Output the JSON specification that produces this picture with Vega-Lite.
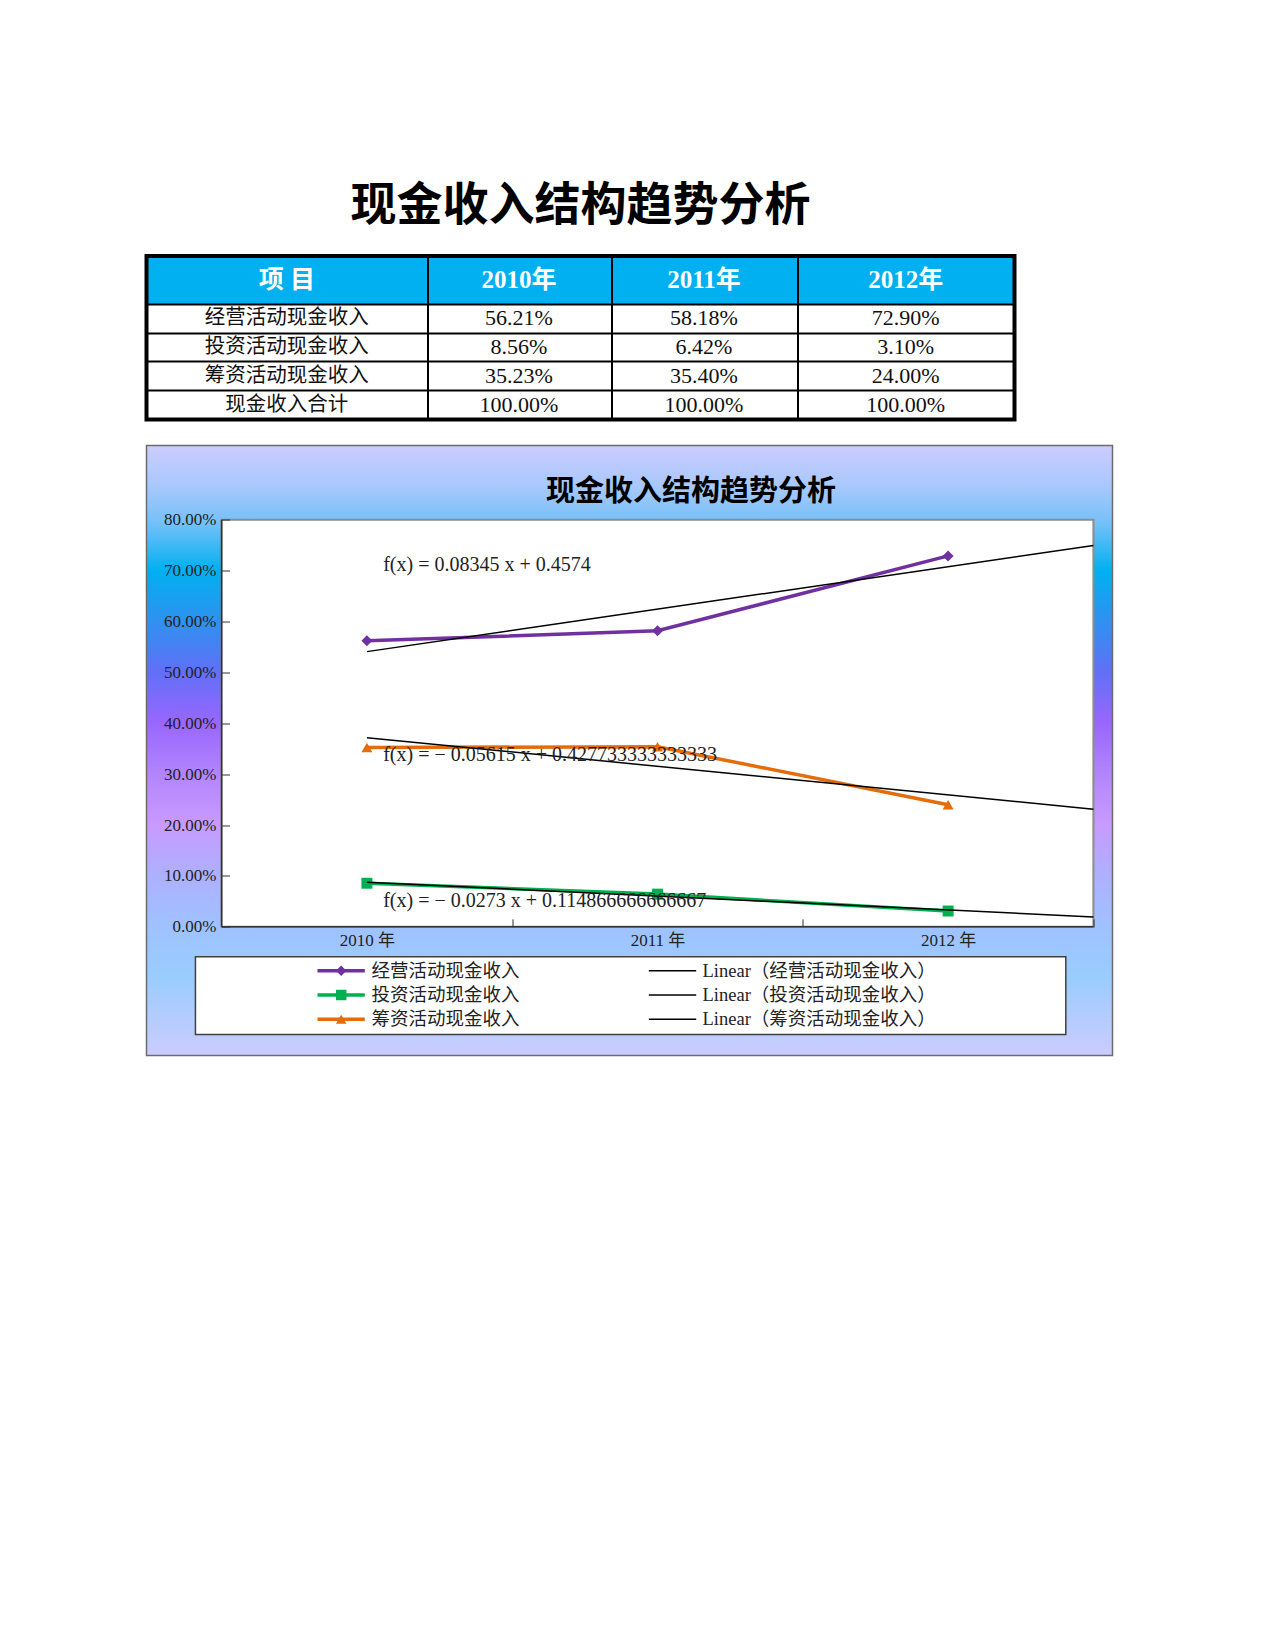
{
  "$schema": "https://vega.github.io/schema/vega-lite/v6.json",
  "background": "white",
  "padding": {"left": 144.5, "top": 183, "right": 10, "bottom": 10},
  "spacing": 22.5,
  "datasets": {
    "cash": [
      {"r": 1, "item": "经营活动现金收入", "trend": "Linear（经营活动现金收入）", "c": 1, "value": 0.5621},
      {"r": 1, "item": "经营活动现金收入", "trend": "Linear（经营活动现金收入）", "c": 2, "value": 0.5818},
      {"r": 1, "item": "经营活动现金收入", "trend": "Linear（经营活动现金收入）", "c": 3, "value": 0.729},
      {"r": 2, "item": "投资活动现金收入", "trend": "Linear（投资活动现金收入）", "c": 1, "value": 0.0856},
      {"r": 2, "item": "投资活动现金收入", "trend": "Linear（投资活动现金收入）", "c": 2, "value": 0.0642},
      {"r": 2, "item": "投资活动现金收入", "trend": "Linear（投资活动现金收入）", "c": 3, "value": 0.031},
      {"r": 3, "item": "筹资活动现金收入", "trend": "Linear（筹资活动现金收入）", "c": 1, "value": 0.3523},
      {"r": 3, "item": "筹资活动现金收入", "trend": "Linear（筹资活动现金收入）", "c": 2, "value": 0.354},
      {"r": 3, "item": "筹资活动现金收入", "trend": "Linear（筹资活动现金收入）", "c": 3, "value": 0.24},
      {"r": 4, "item": "现金收入合计", "c": 1, "value": 1},
      {"r": 4, "item": "现金收入合计", "c": 2, "value": 1},
      {"r": 4, "item": "现金收入合计", "c": 3, "value": 1}
    ],
    "header": [
      {"c": 0, "h": "项 目"},
      {"c": 1, "h": "2010年"},
      {"c": 2, "h": "2011年"},
      {"c": 3, "h": "2012年"}
    ]
  },
  "config": {
    "view": {"stroke": null},
    "axis": {"title": null},
    "legend": {"disable": true}
  },
  "vconcat": [
    {
      "width": 868,
      "height": 163.5,
      "title": {"text": "现金收入结构趋势分析", "font": "Noto Sans CJK SC", "fontSize": 46, "fontWeight": "bold", "color": "black", "anchor": "middle", "baseline": "middle", "offset": 2},
      "data": {"values": [{}]},
      "layer": [
        {
          "mark": {"type": "rect", "color": "#00B0F0"},
          "encoding": {
            "x": {"datum": -0.5, "type": "quantitative",
              "scale": {"domain": [-0.5, 0.5, 1.5, 2.5, 3.5], "range": [0, 280.5, 464.5, 650.5, 868], "zero": false, "nice": false},
              "axis": {"values": [0.5, 1.5, 2.5], "grid": true, "gridColor": "black", "gridWidth": 2, "domain": false, "ticks": false, "labels": false, "zindex": 1}},
            "x2": {"datum": 3.5},
            "y": {"datum": -0.5, "type": "quantitative",
              "scale": {"domain": [-0.5, 0.5, 1.5, 2.5, 3.5, 4.5], "range": [0, 48, 76.5, 105, 134, 163.5], "zero": false, "nice": false},
              "axis": {"values": [0.5, 1.5, 2.5, 3.5], "grid": true, "gridColor": "black", "gridWidth": 2, "domain": false, "ticks": false, "labels": false, "zindex": 1}},
            "y2": {"datum": 0.5}
          }
        },
        {
          "data": {"name": "header"},
          "mark": {"type": "text", "font": "Liberation Serif, Noto Sans CJK SC", "fontSize": 25, "fontWeight": "bold", "color": "white", "baseline": "middle", "align": "center"},
          "encoding": {
            "x": {"field": "c", "type": "quantitative"},
            "y": {"datum": 0, "type": "quantitative"},
            "text": {"field": "h"}
          }
        },
        {
          "data": {"name": "cash"},
          "transform": [{"filter": "datum.c === 1"}],
          "mark": {"type": "text", "font": "Noto Sans CJK SC", "fontSize": 20.5, "color": "#111", "baseline": "middle", "align": "center"},
          "encoding": {
            "x": {"datum": 0, "type": "quantitative"},
            "y": {"field": "r", "type": "quantitative"},
            "text": {"field": "item"}
          }
        },
        {
          "data": {"name": "cash"},
          "mark": {"type": "text", "font": "Liberation Serif", "fontSize": 22, "color": "#111", "baseline": "middle", "align": "center"},
          "encoding": {
            "x": {"field": "c", "type": "quantitative"},
            "y": {"field": "r", "type": "quantitative"},
            "text": {"field": "value", "format": ".2%"}
          }
        },
        {
          "mark": {"type": "rect", "filled": false, "stroke": "black", "strokeWidth": 4},
          "encoding": {
            "x": {"datum": -0.5, "type": "quantitative"},
            "x2": {"datum": 3.5},
            "y": {"datum": -0.5, "type": "quantitative"},
            "y2": {"datum": 4.5}
          }
        }
      ]
    },
    {
      "width": 966,
      "height": 610,
      "title": {"text": "现金收入结构趋势分析", "font": "Noto Sans CJK SC", "fontSize": 29, "fontWeight": "bold", "color": "black", "anchor": "middle", "baseline": "middle", "offset": -76, "dx": 61.5},
      "data": {"values": [{}]},
      "resolve": {"scale": {"y": "independent"}},
      "layer": [
        {
          "layer": [
            {
              "mark": {"type": "rect", "stroke": "#6b6b6b", "strokeWidth": 1.5,
                "color": {"gradient": "linear", "x1": 0, "y1": 0, "x2": 0, "y2": 1, "stops": [
                  {"offset": 0, "color": "#CCCCFF"},
                  {"offset": 0.07, "color": "#A6C8FC"},
                  {"offset": 0.13, "color": "#70C0F8"},
                  {"offset": 0.205, "color": "#00B0F0"},
                  {"offset": 0.29, "color": "#3090F0"},
                  {"offset": 0.37, "color": "#6070F8"},
                  {"offset": 0.455, "color": "#9966FF"},
                  {"offset": 0.54, "color": "#B385FC"},
                  {"offset": 0.62, "color": "#C89AFF"},
                  {"offset": 0.705, "color": "#ADB0FF"},
                  {"offset": 0.79, "color": "#9FC2FF"},
                  {"offset": 0.87, "color": "#99CCFF"},
                  {"offset": 1, "color": "#CCCCFF"}
                ]}},
              "encoding": {
                "x": {"datum": 0.2416, "type": "quantitative"},
                "x2": {"datum": 3.5657},
                "y": {"datum": -0.253, "type": "quantitative"},
                "y2": {"datum": 0.946}
              }
            },
            {
              "mark": {"type": "rect", "fill": "white", "stroke": "#8c8c8c", "strokeWidth": 2},
              "encoding": {
                "x": {"datum": 0.5, "type": "quantitative",
                  "scale": {"domain": [0.2416, 3.5657], "zero": false, "nice": false},
                  "axis": {"values": [1.5, 2.5, 3.5], "labelExpr": "datum.value === 1.5 ? '2010 年' : datum.value === 2.5 ? '2011 年' : '2012 年'",
                    "labelOffset": -145.3, "offset": -128.7, "domain": false, "grid": false, "zindex": 1, "tickSize": -8, "tickColor": "#333",
                    "labelPadding": 14, "labelFont": "Liberation Serif, Noto Sans CJK SC", "labelFontSize": 17, "labelColor": "#222", "labelFlush": false, "labelOverlap": false}},
                "x2": {"datum": 3.5},
                "y": {"datum": 0, "type": "quantitative",
                  "scale": {"domain": [-0.253, 0.946], "zero": false, "nice": false},
                  "axis": {"values": [0, 0.1, 0.2, 0.3, 0.4, 0.5, 0.6, 0.7, 0.8], "format": ".2%",
                    "offset": -75.1, "domain": false, "grid": false, "zindex": 1, "tickSize": -8, "tickColor": "#333",
                    "labelPadding": 13.8, "labelFont": "Liberation Serif", "labelFontSize": 17, "labelColor": "#222", "labelFlush": false, "labelOverlap": false}},
                "y2": {"datum": 0.8}
              }
            },
            {
              "mark": {"type": "rect", "fill": "white", "stroke": "#404040", "strokeWidth": 1.5},
              "encoding": {
                "x": {"datum": 0.41, "type": "quantitative"},
                "x2": {"datum": 3.405},
                "y": {"datum": -0.059, "type": "quantitative"},
                "y2": {"datum": -0.2117}
              }
            },
            {
              "mark": {"type": "rule", "color": "#333", "strokeWidth": 1.5},
              "encoding": {
                "x": {"datum": 0.5, "type": "quantitative"},
                "y": {"datum": 0, "type": "quantitative"},
                "y2": {"datum": 0.8}
              }
            },
            {
              "mark": {"type": "rule", "color": "#333", "strokeWidth": 1.5},
              "encoding": {
                "x": {"datum": 0.5, "type": "quantitative"},
                "x2": {"datum": 3.5},
                "y": {"datum": 0, "type": "quantitative"}
              }
            },
            {
              "data": {"name": "cash"},
              "transform": [{"filter": "datum.r < 4"}],
              "mark": {"type": "line", "strokeWidth": 3.5},
              "encoding": {
                "x": {"field": "c", "type": "quantitative"},
                "y": {"field": "value", "type": "quantitative"},
                "color": {"field": "item", "type": "nominal",
                  "scale": {
                    "domain": ["经营活动现金收入", "Linear（经营活动现金收入）", "投资活动现金收入", "Linear（投资活动现金收入）", "筹资活动现金收入", "Linear（筹资活动现金收入）"],
                    "range": ["#7030A0", "#000000", "#00B050", "#000000", "#E46C0A", "#000000"]
                  }}
              }
            },
            {
              "data": {"name": "cash"},
              "transform": [{"filter": "datum.r < 4"}],
              "mark": {"type": "point", "filled": true, "opacity": 1, "strokeWidth": 0, "size": 120},
              "encoding": {
                "x": {"field": "c", "type": "quantitative"},
                "y": {"field": "value", "type": "quantitative"},
                "color": {"field": "item", "type": "nominal"},
                "shape": {"field": "item", "type": "nominal",
                  "scale": {"domain": ["经营活动现金收入", "投资活动现金收入", "筹资活动现金收入"], "range": ["diamond", "square", "triangle-up"]}}
              }
            },
            {
              "data": {"name": "cash"},
              "transform": [
                {"filter": "datum.r < 4"},
                {"regression": "value", "on": "c", "groupby": ["item", "trend"], "extent": [1, 3.5]}
              ],
              "mark": {"type": "line", "strokeWidth": 1.5},
              "encoding": {
                "x": {"field": "c", "type": "quantitative"},
                "y": {"field": "value", "type": "quantitative"},
                "color": {"field": "trend", "type": "nominal"}
              }
            },
            {
              "mark": {"type": "text", "text": "f(x) = 0.08345 x + 0.4574", "align": "left", "baseline": "middle", "font": "Liberation Serif", "fontSize": 20, "color": "#222"},
              "encoding": {
                "x": {"datum": 1.056, "type": "quantitative"},
                "y": {"datum": 0.712, "type": "quantitative"}
              }
            },
            {
              "mark": {"type": "text", "text": "f(x) = − 0.05615 x + 0.427733333333333", "align": "left", "baseline": "middle", "font": "Liberation Serif", "fontSize": 20, "color": "#222"},
              "encoding": {
                "x": {"datum": 1.056, "type": "quantitative"},
                "y": {"datum": 0.337, "type": "quantitative"}
              }
            },
            {
              "mark": {"type": "text", "text": "f(x) = − 0.0273 x + 0.114866666666667", "align": "left", "baseline": "middle", "font": "Liberation Serif", "fontSize": 20, "color": "#222"},
              "encoding": {
                "x": {"datum": 1.056, "type": "quantitative"},
                "y": {"datum": 0.0497, "type": "quantitative"}
              }
            }
          ]
        },
        {
          "data": {"name": "cash"},
          "transform": [{"filter": "datum.r < 4 && datum.c === 1"}],
          "encoding": {
            "y": {"field": "r", "type": "quantitative", "axis": null,
              "scale": {"domain": [-20.707, 4.5], "reverse": true, "zero": false, "nice": false}}
          },
          "layer": [
            {
              "mark": {"type": "rule", "strokeWidth": 3.5},
              "encoding": {
                "x": {"datum": 0.83, "type": "quantitative"},
                "x2": {"datum": 0.9928},
                "color": {"field": "item", "type": "nominal"}
              }
            },
            {
              "mark": {"type": "point", "filled": true, "opacity": 1, "strokeWidth": 0, "size": 110},
              "encoding": {
                "x": {"datum": 0.9116, "type": "quantitative"},
                "color": {"field": "item", "type": "nominal"},
                "shape": {"field": "item", "type": "nominal"}
              }
            },
            {
              "mark": {"type": "text", "align": "left", "baseline": "middle", "font": "Noto Sans CJK SC", "fontSize": 18.5, "color": "#222"},
              "encoding": {
                "x": {"datum": 1.0158, "type": "quantitative"},
                "text": {"field": "item"}
              }
            },
            {
              "mark": {"type": "rule", "strokeWidth": 1.5, "color": "black"},
              "encoding": {
                "x": {"datum": 1.9701, "type": "quantitative"},
                "x2": {"datum": 2.1332}
              }
            },
            {
              "mark": {"type": "text", "align": "left", "baseline": "middle", "font": "Liberation Serif, Noto Sans CJK SC", "fontSize": 18.5, "color": "#222"},
              "encoding": {
                "x": {"datum": 2.1549, "type": "quantitative"},
                "text": {"field": "trend"}
              }
            }
          ]
        }
      ]
    }
  ]
}
